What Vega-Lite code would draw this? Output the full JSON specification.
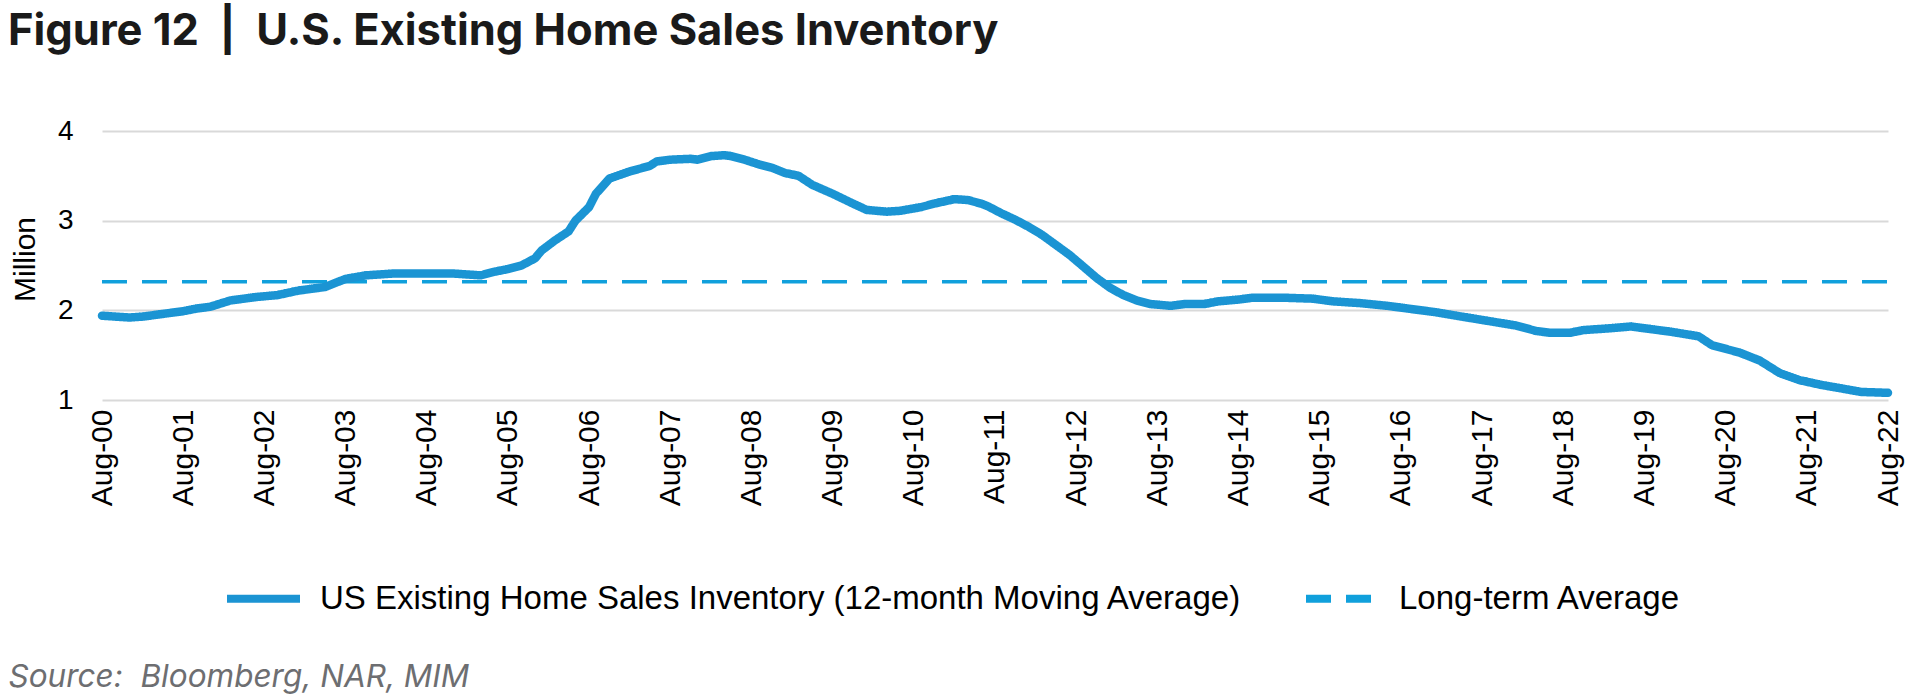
{
  "$schema": "https://vega.github.io/schema/vega-lite/v6.json",
  "width": 1786,
  "height": 269,
  "autosize": {"type": "none"},
  "padding": {"left": 102, "top": 131, "right": 25, "bottom": 297},
  "background": "white",
  "title": {
    "text": "Figure 12\u00a0 |\u00a0 U.S. Existing Home Sales Inventory",
    "anchor": "start",
    "frame": "group",
    "dx": -94,
    "offset": 29,
    "baseline": "alphabetic",
    "font": "Inter",
    "fontSize": 43.5,
    "fontWeight": "bold",
    "color": "#1a1a1a"
  },
  "config": {
    "view": {"stroke": null},
    "font": "Liberation Sans",
    "legend": {"symbolStrokeWidth": 8}
  },
  "datasets": {
    "inv": [
      {"date": "2000-08-01", "value": 1.94},
      {"date": "2000-10-01", "value": 1.93},
      {"date": "2000-12-01", "value": 1.92},
      {"date": "2001-02-01", "value": 1.93},
      {"date": "2001-05-01", "value": 1.96},
      {"date": "2001-08-01", "value": 1.99},
      {"date": "2001-10-01", "value": 2.02},
      {"date": "2001-12-01", "value": 2.04},
      {"date": "2002-03-01", "value": 2.11},
      {"date": "2002-05-01", "value": 2.13},
      {"date": "2002-07-01", "value": 2.15},
      {"date": "2002-10-01", "value": 2.17},
      {"date": "2003-01-01", "value": 2.22},
      {"date": "2003-05-01", "value": 2.26},
      {"date": "2003-08-01", "value": 2.35},
      {"date": "2003-11-01", "value": 2.39},
      {"date": "2004-03-01", "value": 2.41},
      {"date": "2004-08-01", "value": 2.41},
      {"date": "2004-12-01", "value": 2.41},
      {"date": "2005-04-01", "value": 2.39},
      {"date": "2005-06-01", "value": 2.43},
      {"date": "2005-08-01", "value": 2.46},
      {"date": "2005-10-01", "value": 2.5},
      {"date": "2005-12-01", "value": 2.58},
      {"date": "2006-01-01", "value": 2.67},
      {"date": "2006-03-01", "value": 2.78},
      {"date": "2006-05-01", "value": 2.88},
      {"date": "2006-06-01", "value": 3.0},
      {"date": "2006-08-01", "value": 3.15},
      {"date": "2006-09-01", "value": 3.3},
      {"date": "2006-11-01", "value": 3.47},
      {"date": "2007-02-01", "value": 3.55},
      {"date": "2007-05-01", "value": 3.61},
      {"date": "2007-06-01", "value": 3.66},
      {"date": "2007-08-01", "value": 3.68},
      {"date": "2007-11-01", "value": 3.69},
      {"date": "2007-12-01", "value": 3.68},
      {"date": "2008-02-01", "value": 3.72},
      {"date": "2008-04-01", "value": 3.73},
      {"date": "2008-05-01", "value": 3.72},
      {"date": "2008-07-01", "value": 3.68},
      {"date": "2008-09-01", "value": 3.63},
      {"date": "2008-11-01", "value": 3.59},
      {"date": "2009-01-01", "value": 3.53},
      {"date": "2009-03-01", "value": 3.5},
      {"date": "2009-05-01", "value": 3.4},
      {"date": "2009-08-01", "value": 3.3},
      {"date": "2009-11-01", "value": 3.19},
      {"date": "2010-01-01", "value": 3.12},
      {"date": "2010-04-01", "value": 3.1},
      {"date": "2010-06-01", "value": 3.11},
      {"date": "2010-09-01", "value": 3.15},
      {"date": "2010-11-01", "value": 3.19},
      {"date": "2011-02-01", "value": 3.24},
      {"date": "2011-04-01", "value": 3.23},
      {"date": "2011-06-01", "value": 3.19},
      {"date": "2011-07-01", "value": 3.16},
      {"date": "2011-09-01", "value": 3.08},
      {"date": "2011-11-01", "value": 3.01},
      {"date": "2012-01-01", "value": 2.93},
      {"date": "2012-03-01", "value": 2.84},
      {"date": "2012-05-01", "value": 2.73},
      {"date": "2012-07-01", "value": 2.62},
      {"date": "2012-09-01", "value": 2.49},
      {"date": "2012-11-01", "value": 2.36},
      {"date": "2013-01-01", "value": 2.25},
      {"date": "2013-03-01", "value": 2.17},
      {"date": "2013-05-01", "value": 2.11},
      {"date": "2013-07-01", "value": 2.07},
      {"date": "2013-10-01", "value": 2.05},
      {"date": "2013-12-01", "value": 2.07},
      {"date": "2014-03-01", "value": 2.07},
      {"date": "2014-05-01", "value": 2.1},
      {"date": "2014-08-01", "value": 2.12},
      {"date": "2014-10-01", "value": 2.14},
      {"date": "2015-03-01", "value": 2.14},
      {"date": "2015-07-01", "value": 2.13},
      {"date": "2015-10-01", "value": 2.1},
      {"date": "2016-02-01", "value": 2.08},
      {"date": "2016-06-01", "value": 2.05},
      {"date": "2016-10-01", "value": 2.01},
      {"date": "2017-01-01", "value": 1.98},
      {"date": "2017-05-01", "value": 1.93},
      {"date": "2017-09-01", "value": 1.88},
      {"date": "2018-01-01", "value": 1.83},
      {"date": "2018-04-01", "value": 1.77},
      {"date": "2018-06-01", "value": 1.75},
      {"date": "2018-09-01", "value": 1.75},
      {"date": "2018-11-01", "value": 1.78},
      {"date": "2019-03-01", "value": 1.8},
      {"date": "2019-06-01", "value": 1.82},
      {"date": "2019-09-01", "value": 1.79},
      {"date": "2019-12-01", "value": 1.76},
      {"date": "2020-04-01", "value": 1.71},
      {"date": "2020-06-01", "value": 1.61},
      {"date": "2020-10-01", "value": 1.53},
      {"date": "2021-01-01", "value": 1.44},
      {"date": "2021-04-01", "value": 1.3},
      {"date": "2021-07-01", "value": 1.22},
      {"date": "2021-10-01", "value": 1.17},
      {"date": "2022-01-01", "value": 1.13},
      {"date": "2022-04-01", "value": 1.09},
      {"date": "2022-08-01", "value": 1.08}
    ],
    "avg": [
      {"date": "2000-08-01", "value": 2.32},
      {"date": "2022-08-01", "value": 2.32}
    ]
  },
  "layer": [
    {
      "data": {"name": "avg"},
      "transform": [{"calculate": "'Long-term Average'", "as": "series"}],
      "mark": {"type": "line", "strokeWidth": 3.5, "strokeCap": "butt"},
      "encoding": {
        "x": {"field": "date", "type": "temporal"},
        "y": {"field": "value", "type": "quantitative"},
        "color": {"field": "series", "type": "nominal"},
        "strokeDash": {"field": "series", "type": "nominal"}
      }
    },
    {
      "data": {"name": "inv"},
      "transform": [{"calculate": "'US Existing Home Sales Inventory (12-month Moving Average)'", "as": "series"}],
      "mark": {"type": "line", "strokeWidth": 8.5, "strokeCap": "round", "strokeJoin": "round"},
      "encoding": {
        "x": {
          "field": "date",
          "type": "temporal",
          "scale": {
            "type": "utc",
            "domain": [
              {"year": 2000, "month": 8, "date": 1, "utc": true},
              {"year": 2022, "month": 8, "date": 1, "utc": true}
            ]
          },
          "axis": {
            "title": "Source:\u00a0 Bloomberg, NAR, MIM",
            "titleX": -94,
            "titleY": 286,
            "titleAlign": "left",
            "titleBaseline": "alphabetic",
            "titleAngle": 0,
            "titleFont": "Inter",
            "titleFontStyle": "italic",
            "titleFontWeight": "normal",
            "titleFontSize": 31.5,
            "titleColor": "#6d6e71",
            "values": [
              {"year": 2000, "month": 8, "date": 1, "utc": true},
              {"year": 2001, "month": 8, "date": 1, "utc": true},
              {"year": 2002, "month": 8, "date": 1, "utc": true},
              {"year": 2003, "month": 8, "date": 1, "utc": true},
              {"year": 2004, "month": 8, "date": 1, "utc": true},
              {"year": 2005, "month": 8, "date": 1, "utc": true},
              {"year": 2006, "month": 8, "date": 1, "utc": true},
              {"year": 2007, "month": 8, "date": 1, "utc": true},
              {"year": 2008, "month": 8, "date": 1, "utc": true},
              {"year": 2009, "month": 8, "date": 1, "utc": true},
              {"year": 2010, "month": 8, "date": 1, "utc": true},
              {"year": 2011, "month": 8, "date": 1, "utc": true},
              {"year": 2012, "month": 8, "date": 1, "utc": true},
              {"year": 2013, "month": 8, "date": 1, "utc": true},
              {"year": 2014, "month": 8, "date": 1, "utc": true},
              {"year": 2015, "month": 8, "date": 1, "utc": true},
              {"year": 2016, "month": 8, "date": 1, "utc": true},
              {"year": 2017, "month": 8, "date": 1, "utc": true},
              {"year": 2018, "month": 8, "date": 1, "utc": true},
              {"year": 2019, "month": 8, "date": 1, "utc": true},
              {"year": 2020, "month": 8, "date": 1, "utc": true},
              {"year": 2021, "month": 8, "date": 1, "utc": true},
              {"year": 2022, "month": 8, "date": 1, "utc": true}
            ],
            "format": "%b-%y",
            "labelAngle": -90,
            "labelPadding": 9,
            "labelFontSize": 30,
            "labelColor": "#000000",
            "labelFlush": false,
            "labelOverlap": false,
            "grid": false,
            "domain": false,
            "ticks": false
          }
        },
        "y": {
          "field": "value",
          "type": "quantitative",
          "scale": {"domain": [1, 4], "nice": false, "zero": false},
          "axis": {
            "title": "Million",
            "titleFontSize": 30,
            "titleFontWeight": "normal",
            "titleColor": "#000000",
            "titleX": -62,
            "titleY": 128,
            "titleAngle": -90,
            "titleAlign": "center",
            "titleBaseline": "bottom",
            "values": [1, 2, 3, 4],
            "format": "d",
            "labelFontSize": 28,
            "labelColor": "#000000",
            "labelPadding": 29,
            "ticks": false,
            "domain": false,
            "gridColor": "#d9d9d9",
            "gridWidth": 2
          }
        },
        "color": {
          "field": "series",
          "type": "nominal",
          "scale": {
            "domain": ["US Existing Home Sales Inventory (12-month Moving Average)", "Long-term Average"],
            "range": ["#1b94d3", "#10a0dc"]
          },
          "legend": {
            "title": null,
            "orient": "none",
            "legendX": 121,
            "legendY": 427,
            "direction": "horizontal",
            "columns": 2,
            "columnPadding": 48,
            "symbolType": "stroke",
            "symbolSize": 5329,
            "symbolStrokeWidth": 8,
            "labelFontSize": 33,
            "labelColor": "#000000",
            "labelOffset": 16,
            "labelLimit": 2000
          }
        },
        "strokeDash": {
          "field": "series",
          "type": "nominal",
          "scale": {
            "domain": ["US Existing Home Sales Inventory (12-month Moving Average)", "Long-term Average"],
            "range": [[1, 0], [25, 15]]
          },
          "legend": {
            "title": null,
            "orient": "none",
            "legendX": 121,
            "legendY": 427,
            "direction": "horizontal",
            "columns": 2,
            "columnPadding": 48,
            "symbolType": "stroke",
            "symbolSize": 5329,
            "symbolStrokeWidth": 8,
            "labelFontSize": 33,
            "labelColor": "#000000",
            "labelOffset": 16,
            "labelLimit": 2000
          }
        }
      }
    }
  ]
}
